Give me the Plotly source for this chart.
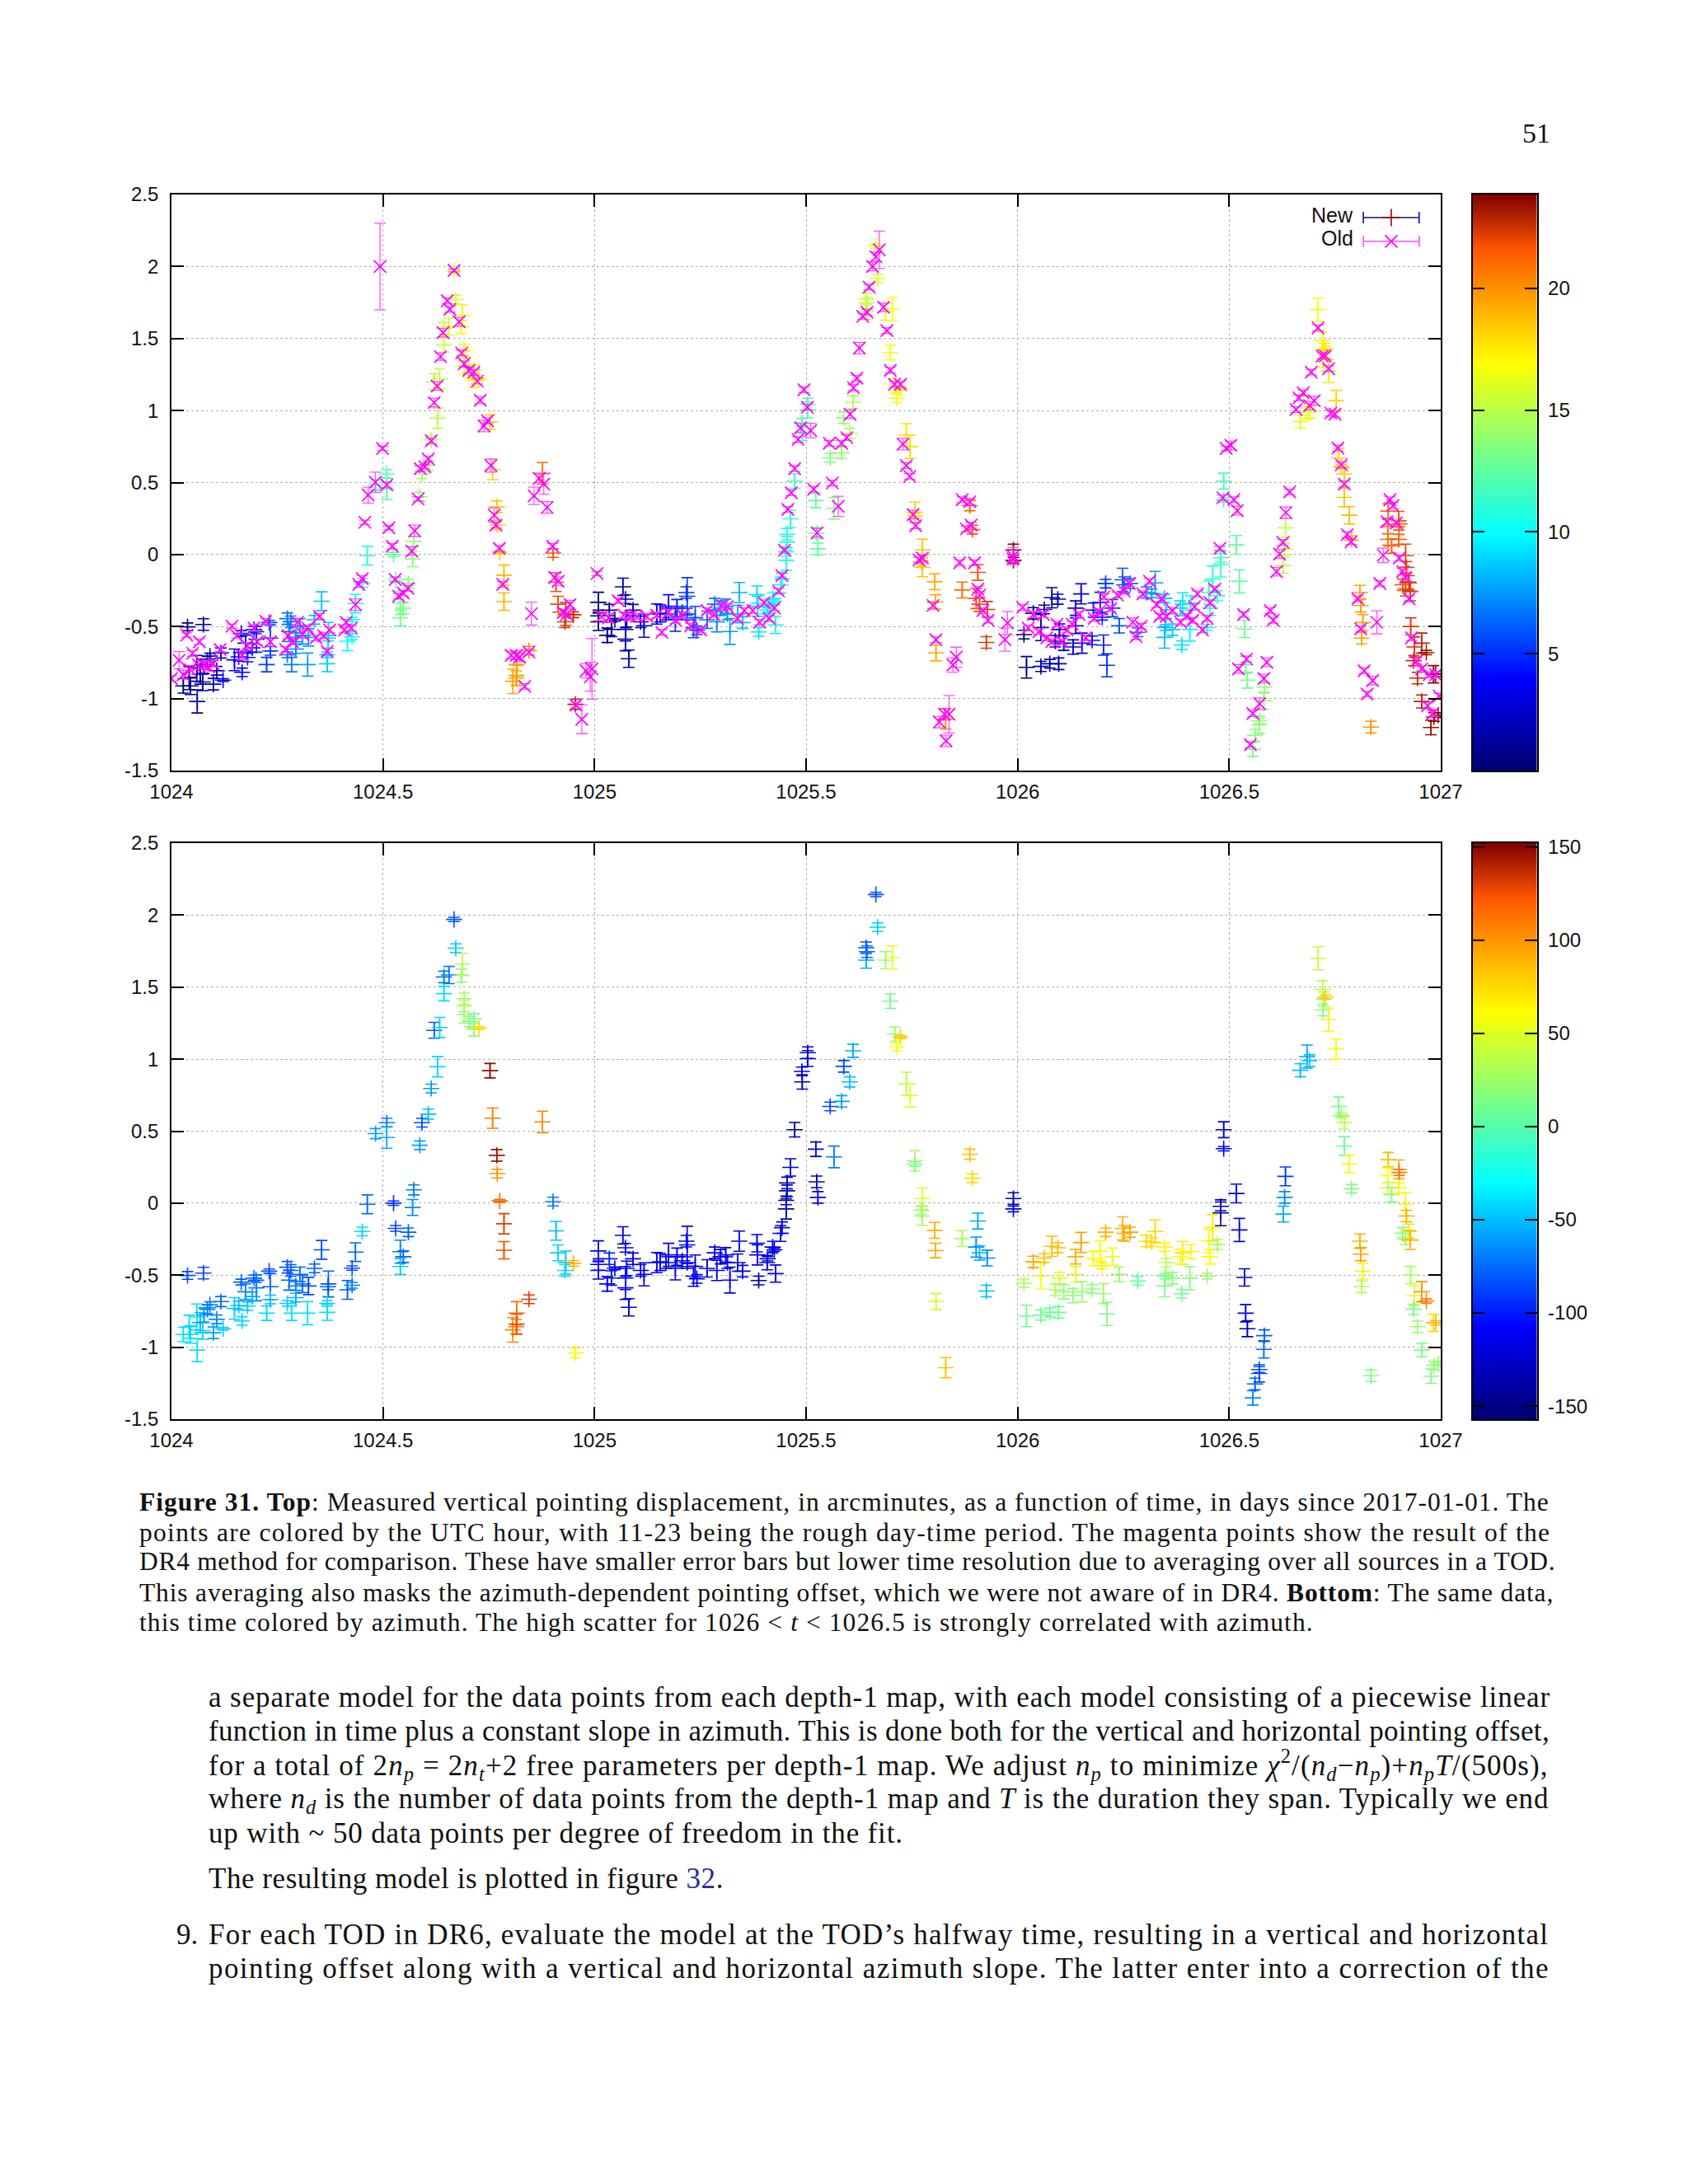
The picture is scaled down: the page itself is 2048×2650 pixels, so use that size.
import plotly.graph_objects as go
from plotly.colors import sample_colorscale

# ---------- data: new measurements ----------
new_time = [
 1024.038,1024.0755,1024.028,1024.042,1024.045,1024.06,1024.061,1024.068,1024.074,1024.077,
 1024.085,1024.091,1024.099,1024.107,1024.117,1024.122,1024.149,1024.165,1024.167,1024.159,
 1024.175,1024.18,1024.195,1024.2,1024.201,1024.191,1024.225,1024.231,1024.234,1024.234,
 1024.274,1024.278,1024.274,1024.284,1024.282,1024.294,1024.294,1024.304,1024.31,1024.322,
 1024.324,1024.338,1024.355,1024.371,1024.37,1024.368,1024.368,1024.416,1024.427,1024.427,
 1024.435,1024.451,1024.463,1024.4825,1024.509,1024.509,1024.525,1024.53,1024.541,1024.548,
 1024.541,1024.56,1024.573,1024.57,1024.587,1024.592,1024.607,1024.614,1024.621,1024.629,
 1024.634,1024.644,1024.644,1024.656,1024.668,1024.672,1024.686,1024.688,1024.692,1024.692,
 1024.692,1024.704,1024.715,1024.715,1024.727,1024.753,1024.759,1024.769,1024.77,1024.776,
 1024.786,1024.786,1024.807,1024.815,1024.816,1024.816,1024.845,1024.877,1024.902,1024.909,
 1024.914,1024.932,1024.93,1024.95,1024.955,
 1025.009,1025.009,1025.009,1025.03,1025.035,1025.048,1025.04,1025.067,1025.073,1025.076,
 1025.073,1025.073,1025.081,1025.091,1025.109,1025.117,1025.147,1025.155,1025.175,1025.169,
 1025.191,1025.195,1025.207,1025.217,1025.219,1025.219,1025.234,1025.238,1025.242,1025.266,
 1025.284,1025.289,1025.298,1025.31,1025.314,1025.32,1025.342,1025.338,1025.35,1025.384,
 1025.385,1025.388,1025.409,1025.408,1025.425,1025.428,1025.421,1025.44,1025.443,1025.455,
 1025.455,1025.453,1025.453,1025.463,1025.473,1025.491,1025.49,1025.504,1025.504,1025.523,
 1025.525,1025.528,1025.557,1025.566,1025.584,1025.589,1025.603,1025.611,1025.642,1025.642,
 1025.644,1025.665,1025.669,1025.688,1025.704,1025.699,1025.71,1025.723,1025.715,1025.737,
 1025.746,1025.757,1025.757,1025.775,1025.772,1025.775,1025.804,1025.806,1025.807,1025.83,
 1025.869,1025.887,1025.893,1025.906,1025.902,1025.91,1025.928,1025.926,1025.99,1025.99,
 1026.015,1026.021,1026.037,1026.055,1026.055,1026.063,1026.076,1026.081,1026.095,1026.097,
 1026.099,1026.089,1026.109,1026.131,1026.137,1026.137,1026.15,1026.152,1026.176,1026.179,
 1026.195,1026.2,1026.203,1026.208,1026.211,1026.224,1026.24,1026.248,1026.252,1026.266,
 1026.284,1026.304,1026.317,1026.325,1026.347,1026.349,1026.347,1026.366,1026.351,1026.388,
 1026.39,1026.384,1026.407,1026.409,1026.448,1026.452,1026.455,1026.461,1026.472,1026.48,
 1026.48,1026.487,1026.487,1026.517,1026.524,1026.536,1026.539,1026.543,1026.556,1026.561,
 1026.571,1026.571,1026.582,1026.583,1026.628,1026.631,1026.633,1026.668,1026.684,1026.69,
 1026.71,1026.721,1026.724,1026.728,1026.721,1026.735,1026.753,1026.759,1026.765,1026.772,
 1026.772,1026.784,1026.789,1026.809,1026.811,1026.816,1026.813,1026.835,1026.876,1026.875,
 1026.875,1026.884,1026.901,1026.902,1026.901,1026.917,1026.919,1026.91,1026.917,1026.925,
 1026.928,1026.929,1026.938,1026.936,1026.945,1026.955,1026.966,1026.955,1026.983,1026.988,
 1026.977,1026.984,1026.994]
new_value = [
 -.502,-.486,-.912,-.858,-.912,-.79,-1.02,-.83,-.885,-.777,
 -.737,-.705,-.9,-.807,-.683,-.872,-.731,-.548,-.818,-.71,
 -.615,-.715,-.52,-.535,-.588,-.648,-.764,-.472,-.58,-.669,
 -.445,-.534,-.696,-.764,-.467,-.575,-.656,-.494,-.561,-.764,
 -.575,-.453,-.324,-.561,-.58,-.696,-.758,-.602,-.57,-.451,
 -.34,-.197,-.008,.483,.559,.456,0,-.175,-.337,-.372,
 -.44,-.202,.092,-.03,.402,.559,.618,.796,1.2,.947,
 1.22,1.455,1.571,1.584,1.97,1.77,1.58,1.66,1.42,1.37,
 1.31,1.26,1.28,1.21,1.217,.92,.59,.332,.205,.016,
 -.143,-.327,-.88,-.858,-.764,-.84,-.667,.564,.011,-.192,
 -.345,-.413,-.467,-.418,-1.04,
 -.332,-.426,-.467,-.561,-.386,-.453,-.52,-.224,-.31,-.453,
 -.52,-.588,-.723,-.386,-.467,-.494,-.413,-.408,-.359,-.413,
 -.453,-.372,-.4,-.264,-.29,-.413,-.507,-.44,-.526,-.453,
 -.345,-.467,-.372,-.359,-.413,-.534,-.264,-.413,-.472,-.278,
 -.359,-.537,-.386,-.413,-.324,-.489,-.305,-.21,-.17,.14,
 .086,.019,-.04,.248,.51,.842,.915,1.004,1.045,.375,
 .148,.04,.672,.321,.707,.95,.842,1.058,1.773,1.687,
 1.746,2.143,1.916,1.687,1.706,1.403,1.174,1.153,1.085,.829,
 .748,.294,.27,.032,-.049,-.089,-.189,-.329,-.683,-1.142,
 -.246,.34,.173,-.124,-.305,-.345,-.381,-.61,.032,-.04,
 -.556,-.783,-.408,-.777,-.507,-.381,-.758,-.3,-.31,-.758,
 -.521,-.602,-.615,-.642,-.372,-.494,-.273,-.615,-.596,-.386,
 -.332,-.435,-.629,-.202,-.769,-.372,-.494,-.175,-.21,-.202,
 -.54,-.264,-.27,-.197,-.305,-.507,-.575,-.521,-.413,-.629,
 -.345,-.372,-.521,-.337,-.507,-.264,-.372,-.17,-.286,-.067,
 -.022,.51,.378,.067,-.186,-.516,-.764,-.872,-1.352,-1.255,
 -1.182,-1.155,-1.015,-.92,-.076,.04,.186,.923,1.018,.99,
 1.7,1.485,1.417,1.43,1.341,1.274,1.07,.672,.61,.559,
 .397,.273,.1,-.264,-.354,-.472,-.58,-1.198,.302,.194,
 .105,.059,.235,.213,.105,-.008,-.089,-.21,-.238,-.197,
 -.256,-.499,-.642,-.737,-.858,-.615,-.68,-1.02,-.831,-.831,
 -1.201,-1.128,-1.115]
new_error = [
 .027,.04,.05,.08,.06,.09,.08,.07,.06,.05,
 .03,.02,.04,.03,.035,.01,.075,.02,.03,.03,
 .055,.03,.02,.015,.09,.03,.05,.015,.09,.03,
 .04,.07,.02,.05,.04,.03,.03,.05,.06,.08,
 .06,.03,.065,.09,.02,.02,.055,.065,.02,.015,
 .065,.03,.065,.035,.03,.075,.015,.02,.08,.04,
 .055,.03,.035,.055,.03,.03,.035,.03,.055,.07,
 .07,.05,.04,.06,.015,.03,.045,.075,.04,.04,
 .06,.035,.035,.05,.01,.05,.07,.04,.03,.01,
 .07,.06,.085,.05,.08,.07,.03,.075,.03,.065,
 .055,.08,.04,.02,.035,
 .07,.04,.06,.05,.04,.01,.05,.06,.03,.05,
 .08,.08,.06,.04,.04,.08,.07,.06,.08,.04,
 .08,.06,.04,.04,.13,.04,.07,.08,.03,.06,
 .04,.07,.05,.05,.04,.09,.07,.06,.04,.06,
 .07,.03,.015,.05,.01,.06,.04,.055,.04,.04,
 .04,.03,.07,.06,.05,.05,.03,.055,.04,.05,
 .04,.04,.03,.075,.04,.04,.035,.045,.04,.055,
 .04,.015,.03,.06,.08,.05,.05,.01,.03,.08,
 .08,.07,.015,.075,.03,.065,.055,.05,.055,.07,
 .055,.035,.03,.055,.07,.05,.055,.04,.04,.02,
 .03,.075,.04,.035,.09,.03,.03,.07,.035,.04,
 .04,.04,.05,.05,.05,.055,.07,.07,.03,.05,
 .07,.02,.07,.03,.08,.06,.05,.08,.055,.035,
 .03,.04,.03,.08,.03,.02,.075,.04,.03,.03,
 .08,.05,.08,.05,.02,.08,.05,.09,.035,.09,
 .03,.055,.015,.065,.08,.06,.06,.055,.05,.04,
 .06,.02,.06,.04,.055,.04,.065,.045,.08,.04,
 .08,.06,.05,.015,.04,.08,.07,.065,.015,.045,
 .065,.06,.03,.05,.045,.055,.04,.04,.05,.05,
 .04,.05,.065,.02,.035,.08,.04,.04,.05,.05,
 .065,.06,.07,.035,.04,.07,.015,.045,.06,.015,
 .05,.03,.015]
new_utc_hour = [
 .9,1.8,.7,1.0,1.1,1.4,1.5,1.6,1.8,1.8,
 2.0,2.2,2.4,2.6,2.8,2.9,3.6,4.0,4.0,3.8,
 4.2,4.3,4.7,4.8,4.8,4.6,5.4,5.5,5.6,5.6,
 6.6,6.7,6.6,6.8,6.8,7.1,7.1,7.3,7.4,7.7,
 7.8,8.1,8.5,8.9,8.9,8.8,8.8,10.0,10.2,10.2,
 10.4,10.8,11.1,11.6,12.2,12.2,12.6,12.7,13.0,13.2,
 13.0,13.4,13.8,13.7,14.1,14.2,14.6,14.7,14.9,15.1,
 15.2,15.5,15.5,15.7,16.0,16.1,16.5,16.5,16.6,16.6,
 16.6,16.9,17.2,17.2,17.4,18.1,18.2,18.5,18.5,18.6,
 18.9,18.9,19.4,19.6,19.6,19.6,20.3,21.0,21.6,21.8,
 21.9,22.4,22.3,22.8,22.9,
 .2,.2,.2,.7,.8,1.2,1.0,1.6,1.8,1.8,
 1.8,1.8,1.9,2.2,2.6,2.8,3.5,3.7,4.2,4.1,
 4.6,4.7,5.0,5.2,5.3,5.3,5.6,5.7,5.8,6.4,
 6.8,6.9,7.2,7.4,7.5,7.7,8.2,8.1,8.4,9.2,
 9.2,9.3,9.8,9.8,10.2,10.3,10.1,10.6,10.6,10.9,
 10.9,10.9,10.9,11.1,11.4,11.8,11.8,12.1,12.1,12.6,
 12.6,12.7,13.4,13.6,14.0,14.1,14.5,14.7,15.4,15.4,
 15.5,16.0,16.1,16.5,16.9,16.8,17.0,17.4,17.2,17.7,
 17.9,18.2,18.2,18.6,18.5,18.6,19.3,19.3,19.4,19.9,
 20.9,21.3,21.4,21.7,21.6,21.8,22.3,22.2,23.8,23.8,
 .4,.5,.9,1.3,1.3,1.5,1.8,1.9,2.3,2.3,
 2.4,2.1,2.6,3.1,3.3,3.3,3.6,3.6,4.2,4.3,
 4.7,4.8,4.9,5.0,5.1,5.4,5.8,6.0,6.0,6.4,
 6.8,7.3,7.6,7.8,8.3,8.4,8.3,8.8,8.4,9.3,
 9.4,9.2,9.8,9.8,10.8,10.8,10.9,11.1,11.3,11.5,
 11.5,11.7,11.7,12.4,12.6,12.9,12.9,13.0,13.3,13.5,
 13.7,13.7,14.0,14.0,15.1,15.1,15.2,16.0,16.4,16.6,
 17.0,17.3,17.4,17.5,17.3,17.6,18.1,18.2,18.4,18.5,
 18.5,18.8,18.9,19.4,19.5,19.6,19.5,20.0,21.0,21.0,
 21.0,21.2,21.6,21.6,21.6,22.0,22.1,21.8,22.0,22.2,
 22.3,22.3,22.5,22.5,22.7,22.9,23.2,22.9,23.6,23.7,
 23.4,23.6,23.9]
new_azimuth = [
 -85,-85,-38,-42,-42,-40,-38,-50,-42,-60,
 -70,-70,-60,-65,-75,-45,-45,-80,-42,-50,
 -70,-48,-78,-82,-70,-55,-42,-85,-78,-50,
 -82,-80,-45,-40,-80,-70,-55,-75,-75,-40,
 -85,-80,-85,-78,-82,-42,-40,-80,-70,-85,
 -75,-40,-75,-60,-70,-55,-95,-85,-70,-78,
 -45,-78,-70,-65,-60,-85,-50,-60,-80,-42,
 -42,-40,-70,-70,-82,-45,20,35,30,28,
 25,15,10,15,75,148,110,145,100,115,
 130,125,105,110,115,125,130,105,-70,-50,
 -45,-50,-40,90,65,
 -115,-115,-112,-108,-98,-115,-102,-112,-115,-112,
 -108,-108,-128,-115,-115,-115,-115,-115,-115,-112,
 -115,-112,-115,-115,-112,-112,-115,-112,-112,-115,
 -115,-112,-115,-115,-112,-112,-115,-115,-115,-115,
 -115,-140,-128,-115,-115,-115,-115,-115,-112,-128,
 -128,-140,-135,-122,-140,-128,-115,-115,-122,-115,
 -128,-112,-85,-70,-60,-85,-50,-55,-85,-55,
 -75,-85,-45,25,50,10,25,80,60,35,
 50,30,15,50,20,30,90,90,45,85,
 30,85,75,-55,-65,-50,-65,-50,-135,-122,
 30,10,95,8,60,85,8,85,85,8,
 50,30,20,20,90,50,95,25,20,60,
 60,65,25,90,15,55,25,90,90,95,
 5,75,75,75,65,10,15,20,35,10,
 70,60,20,65,25,60,60,70,30,-140,
 -135,-122,-115,-112,-115,-122,-115,-128,-65,-80,
 -85,-85,-75,-80,-55,-65,-90,-50,-60,-45,
 40,35,30,80,15,65,60,10,25,35,
 5,55,15,90,95,65,35,15,85,60,
 45,15,90,110,65,65,90,15,25,70,
 90,30,50,10,25,100,110,15,75,90,
 15,20,20]

# ---------- data: old (DR4 method) measurements ----------
old_time = [
 1024.0,1024.018,1024.036,1024.05,1024.066,1024.044,1024.028,1024.064,1024.077,1024.087,
 1024.099,1024.115,1024.143,1024.155,1024.167,1024.179,1024.195,1024.203,1024.223,1024.234,
 1024.27,1024.276,1024.298,1024.286,1024.31,1024.322,1024.342,1024.35,1024.36,1024.368,
 1024.374,1024.409,1024.413,1024.425,1024.435,1024.443,1024.451,1024.457,1024.465,1024.482,
 1024.493,1024.499,1024.509,1024.514,1024.522,1024.529,1024.537,1024.548,1024.559,1024.568,
 1024.575,1024.583,1024.588,1024.599,1024.607,1024.614,1024.621,1024.628,1024.636,1024.642,
 1024.652,1024.658,1024.668,1024.68,1024.686,1024.692,1024.703,1024.715,1024.723,1024.73,
 1024.739,1024.747,1024.755,1024.763,1024.767,1024.775,1024.783,1024.803,1024.815,1024.823,
 1024.835,1024.845,1024.857,1024.869,1024.88,1024.888,1024.901,1024.906,1024.914,1024.851,
 1024.926,1024.942,1024.934,1024.956,1024.97,1024.98,1024.994,1024.99,1025.006,
 1025.017,1025.033,1025.056,1025.069,1025.085,1025.1,1025.124,1025.159,1025.147,1025.175,
 1025.191,1025.21,1025.227,1025.251,1025.266,1025.282,1025.302,1025.314,1025.338,1025.354,
 1025.374,1025.39,1025.401,1025.413,1025.425,1025.435,1025.443,1025.449,1025.457,1025.465,
 1025.473,1025.481,1025.487,1025.495,1025.503,1025.511,1025.518,1025.526,1025.555,1025.562,
 1025.576,1025.584,1025.596,1025.604,1025.612,1025.62,1025.626,1025.634,1025.644,1025.649,
 1025.657,1025.665,1025.673,1025.683,1025.691,1025.699,1025.709,1025.723,1025.729,1025.737,
 1025.745,1025.753,1025.759,1025.767,1025.775,1025.8,1025.807,1025.847,1025.855,1025.815,
 1025.827,1025.838,1025.831,1025.869,1025.887,1025.879,1025.89,1025.863,1025.898,1025.906,
 1025.91,1025.918,1025.93,1025.976,1025.97,1025.989,1025.989,
 1026.012,1026.025,1026.037,1026.05,1026.061,1026.069,1026.081,1026.093,1026.105,1026.117,
 1026.129,1026.145,1026.161,1026.181,1026.192,1026.204,1026.22,1026.236,1026.252,1026.264,
 1026.272,1026.292,1026.28,1026.296,1026.312,1026.329,1026.34,1026.336,1026.351,1026.366,
 1026.385,1026.399,1026.418,1026.425,1026.414,1026.437,1026.448,1026.455,1026.466,1026.478,
 1026.493,1026.504,1026.485,1026.511,1026.519,1026.522,1026.534,1026.541,1026.55,1026.556,
 1026.572,1026.582,1026.589,1026.597,1026.604,1026.612,1026.619,1026.627,1026.634,1026.643,
 1026.658,1026.665,1026.675,1026.69,1026.701,1026.694,1026.71,1026.72,1026.727,1026.735,
 1026.74,1026.75,1026.757,1026.765,1026.772,1026.779,1026.788,1026.804,1026.811,1026.819,
 1026.839,1026.826,1026.849,1026.856,1026.864,1026.873,1026.88,1026.887,1026.895,1026.902,
 1026.91,1026.917,1026.925,1026.931,1026.943,1026.955,1026.973,1026.988,1026.969,1026.981,
 1026.996]
old_value = [
 -.861,-.734,-.559,-.686,-.605,-.8,-.834,-.767,-.767,-.78,
 -.758,-.659,-.497,-.564,-.699,-.632,-.51,-.605,-.464,-.605,
 -.659,-.564,-.47,-.605,-.551,-.51,-.578,-.429,-.564,-.672,
 -.524,-.524,-.47,-.51,-.348,-.208,-.167,.224,.413,.502,
 2.0,.737,.483,.186,.057,-.173,-.289,-.267,-.235,.024,
 .165,.386,.596,.61,.664,.79,1.055,1.17,1.374,1.541,
 1.763,1.703,1.973,1.617,1.4,1.325,1.279,1.266,1.204,1.072,
 .893,.928,.618,.273,.205,.043,-.208,-.699,-.699,-.713,
 -.915,-.677,.408,.529,.489,.327,.057,-.159,-.186,-.41,
 -.402,-.348,-.416,-1.044,-1.144,-.807,-.794,-.848,-.132,
 -.43,-.44,-.32,-.42,-.43,-.43,-.43,-.54,-.42,-.4,
 -.456,-.42,-.497,-.524,-.389,-.416,-.354,-.362,-.443,-.389,
 -.389,-.47,-.335,-.443,-.37,-.254,-.146,.03,.313,.429,
 .596,.799,.88,1.144,1.023,.861,.453,.151,.772,.497,
 .335,.772,.812,.974,1.158,1.225,1.433,1.654,1.682,1.857,
 2.0,2.068,2.116,1.717,1.555,1.279,1.182,1.182,.767,.618,
 .543,.278,.2,-.038,-.024,-.354,-.591,-.767,-.713,-1.163,
 -1.109,-1.109,-1.293,.381,.367,.178,.205,-.057,-.057,-.24,
 -.281,-.389,-.456,-.475,-.591,-.011,-.03,
 -.367,-.51,-.416,-.537,-.416,-.578,-.605,-.483,-.605,-.524,
 -.483,-.416,-.578,-.443,-.397,-.294,-.375,-.281,-.254,-.2,
 -.47,-.497,-.57,-.273,-.186,-.348,-.308,-.429,-.429,-.389,
 -.47,-.429,-.362,-.273,-.456,-.524,-.443,-.335,-.24,.043,
 .737,.758,.394,.381,.305,-.794,-.416,-.726,-1.32,-1.104,
 -1.036,-.861,-.748,-.389,-.456,-.119,.003,.084,.291,.435,
 1.007,1.088,1.123,1.034,1.068,1.266,1.574,1.379,1.379,1.29,
 .982,.974,.74,.623,.489,.138,.089,-.308,-.516,-.807,
 -.875,-.969,-.47,-.2,-.005,.227,.381,.34,.219,-.024,
 -.119,-.159,-.308,-.578,-.74,-.794,-.834,-.834,-1.05,-1.104,
 -.982]
old_error = [
 .02,.06,.015,.02,.02,.03,.03,.03,.03,.03,
 .02,.015,.015,.015,.03,.02,.02,.02,.02,.03,
 .02,.02,.02,.02,.03,.02,.02,.02,.02,.02,
 .02,.02,.02,.02,.04,.02,.02,.015,.055,.07,
 .3,.015,.02,.015,.02,.015,.02,.02,.02,.03,
 .04,.015,.02,.015,.02,.02,.03,.03,.025,.03,
 .02,.02,.01,.03,.02,.02,.02,.02,.02,.025,
 .04,.02,.045,.05,.02,.02,.02,.025,.03,.03,
 .02,.02,.06,.03,.07,.04,.02,.03,.03,.08,
 .02,.03,.02,.02,.1,.05,.21,.1,.015,
 .03,.03,.02,.02,.02,.02,.02,.02,.02,.02,
 .02,.02,.02,.02,.02,.02,.02,.02,.02,.02,
 .02,.02,.02,.02,.02,.02,.02,.02,.02,.02,
 .02,.02,.03,.02,.02,.05,.02,.03,.02,.02,
 .07,.02,.02,.03,.02,.02,.04,.02,.02,.02,
 .03,.03,.13,.03,.02,.02,.02,.02,.04,.02,
 .02,.03,.02,.02,.02,.02,.02,.05,.07,.04,
 .04,.13,.04,.02,.02,.02,.02,.02,.02,.02,
 .02,.02,.02,.08,.08,.06,.02,
 .02,.02,.02,.02,.02,.02,.02,.02,.02,.02,
 .02,.02,.02,.02,.02,.02,.02,.02,.02,.02,
 .03,.02,.02,.02,.02,.02,.02,.02,.02,.02,
 .02,.02,.02,.02,.02,.02,.02,.02,.02,.015,
 .015,.03,.02,.02,.03,.03,.02,.02,.02,.02,
 .04,.03,.03,.02,.02,.03,.03,.02,.04,.02,
 .02,.02,.02,.03,.03,.02,.02,.02,.02,.02,
 .02,.02,.02,.02,.02,.02,.02,.02,.02,.02,
 .03,.02,.08,.02,.05,.02,.02,.02,.02,.02,
 .02,.02,.02,.02,.02,.02,.02,.02,.02,.02,
 .02]

# ---------- tick labels ----------
time_ticks = [1024, 1024.5, 1025, 1025.5, 1026, 1026.5, 1027]
time_labels = ["1024", "1024.5", "1025", "1025.5", "1026", "1026.5", "1027"]
disp_ticks = [-1.5, -1, -.5, 0, .5, 1, 1.5, 2, 2.5]
disp_labels = ["-1.5", "-1", "-0.5", "0", "0.5", "1", "1.5", "2", "2.5"]
hour_ticks = [5, 10, 15, 20]
az_ticks = [-150, -100, -50, 0, 50, 100, 150]
az_labels = ["-150", "-100", "-50", "0", "50", "100", "150"]
hour_range = [0.2, 23.85]
az_range = [-157, 152]

palette = [[0, "#000070"], [.16, "#0000ff"], [.41, "#00ffff"], [.54, "#70ff90"],
           [.707, "#ffff00"], [.82, "#ffa000"], [.905, "#ff5500"], [1, "#800000"]]

# ---------- text (text, baseline centre in page pixels, letter spacing) ----------
caption_lines = [
 ("<b>Figure 31. Top</b>: Measured vertical pointing displacement, in arcminutes, as a function of time, in days since 2017-01-01. The", 1822, 1.03),
 ("points are colored by the UTC hour, with 11-23 being the rough day-time period. The magenta points show the result of the", 1859, 1.3),
 ("DR4 method for comparison. These have smaller error bars but lower time resolution due to averaging over all sources in a TOD.", 1895, .69),
 ("This averaging also masks the azimuth-dependent pointing offset, which we were not aware of in DR4. <b>Bottom</b>: The same data,", 1932, .84),
 ("this time colored by azimuth. The high scatter for 1026 &lt; <i>t</i> &lt; 1026.5 is strongly correlated with azimuth.", 1968, 1.08),
]
body_lines = [
 ("a separate model for the data points from each depth-1 map, with each model consisting of a piecewise linear", 2059, .92),
 ("function in time plus a constant slope in azimuth. This is done both for the vertical and horizontal pointing offset,", 2100, .35),
 ("for a total of 2<i>n<sub>p</sub></i> = 2<i>n<sub>t</sub></i>+2 free parameters per depth-1 map. We adjust <i>n<sub>p</sub></i> to minimize <i>χ</i><sup>2</sup>/(<i>n<sub>d</sub></i>−<i>n<sub>p</sub></i>)+<i>n<sub>p</sub>T</i>/(500s),", 2141, 1.12),
 ("where <i>n<sub>d</sub></i> is the number of data points from the depth-1 map and <i>T</i> is the duration they span. Typically we end", 2184, .88),
 ("up with ~ 50 data points per degree of freedom in the fit.", 2224, .85),
 ("The resulting model is plotted in figure <span style='color:#2a2a8c'>32</span>.", 2279, .55),
 ("For each TOD in DR6, evaluate the model at the TOD’s halfway time, resulting in a vertical and horizontal", 2347, 1.22),
 ("pointing offset along with a vertical and horizontal azimuth slope. The latter enter into a correction of the", 2388, 1.42),
]

W, H = 2048, 2650
PLOT_L, PLOT_R = 208, 1748
BAR_L, BAR_R = 1786.5, 1864.5
TOP_PANEL = (236, 935)
BOT_PANEL = (1023, 1722)


def xdom(a, b):
    return [a / W, b / W]


def ydom(top, bottom):
    return [1 - bottom / H, 1 - top / H]


def colour(val, rng):
    return sample_colorscale(palette, [min(1, max(0, (val - rng[0]) / (rng[1] - rng[0])))])[0]


fig = go.Figure()
tick_font = dict(family="Liberation Sans", size=24, color="#111")


def style_main(xa, ya, panel, anchor_x, anchor_y):
    common = dict(showline=True, linecolor="black", linewidth=1.6, mirror="ticks", ticks="inside",
                  ticklen=15, tickwidth=1.6, tickcolor="black", showgrid=True, gridcolor="#b0b0b0",
                  griddash="dot", gridwidth=1.2, zeroline=False, tickfont=tick_font, automargin=False)
    fig.update_layout(**{
        xa: dict(common, domain=xdom(PLOT_L, PLOT_R), range=[1024, 1027], tickvals=time_ticks,
                 ticktext=time_labels, anchor=anchor_y, ticklabelstandoff=3),
        ya: dict(common, domain=ydom(*panel), range=[-1.5, 2.5], tickvals=disp_ticks,
                 ticktext=disp_labels, anchor=anchor_x, ticklabelstandoff=9),
    })


def style_bar(xa, ya, panel, rng, tv, tt, anchor_x, anchor_y):
    fig.update_layout(**{
        xa: dict(domain=xdom(BAR_L, BAR_R), range=[0, 1], showticklabels=False, ticks="", showgrid=False,
                 zeroline=False, showline=True, linecolor="black", linewidth=1.6, mirror=True, anchor=anchor_y,
                 automargin=False),
        ya: dict(domain=ydom(*panel), range=rng, side="right", tickvals=tv, ticktext=tt, ticks="inside",
                 ticklen=15, tickwidth=1.6, tickcolor="black", mirror="ticks", showline=True, linecolor="black",
                 linewidth=1.6, showgrid=False, zeroline=False, tickfont=tick_font, anchor=anchor_x,
                 ticklabelstandoff=7, automargin=False),
    })


def add_new(xa, ya, colour_vals, rng):
    for t, v, e, c in zip(new_time, new_value, new_error, colour_vals):
        col = colour(c, rng)
        fig.add_trace(go.Scatter(
            x=[t], y=[v], xaxis=xa, yaxis=ya, mode="markers", showlegend=False, hoverinfo="skip",
            marker=dict(symbol="cross-thin", size=14, color=col, line=dict(color=col, width=1.6)),
            error_y=dict(type="data", array=[e], visible=True, color=col, thickness=1.6, width=7),
        ))


def add_colour_strip(xa, ya, rng):
    levels = [rng[0] + (rng[1] - rng[0]) * i / 255 for i in range(256)]
    fig.add_trace(go.Heatmap(x=[0, 1], y=levels, z=[[l, l] for l in levels], xaxis=xa, yaxis=ya,
                             colorscale=palette, zmin=rng[0], zmax=rng[1], showscale=False, hoverinfo="skip"))


# top panel
add_new("x", "y", new_utc_hour, hour_range)
fig.add_trace(go.Scatter(
    x=old_time, y=old_value, mode="markers", name="Old", showlegend=False, hoverinfo="skip",
    marker=dict(symbol="x-thin", size=15, color="#ff00ff", line=dict(color="#ff00ff", width=1.7)),
    error_y=dict(type="data", array=old_error, visible=True, color="#ff50ff", thickness=1.3, width=7),
))
# key
key_time = [1026.883]
key_half = [.066]
for y_key, col_err, col_mark, sym in [([2.34], "#101090", "#a01010", "cross-thin"),
                                      ([2.175], "#ff50ff", "#ff00ff", "x-thin")]:
    fig.add_trace(go.Scatter(
        x=key_time, y=y_key, mode="markers", showlegend=False, hoverinfo="skip",
        marker=dict(symbol=sym, size=15, color=col_mark, line=dict(color=col_mark, width=1.7)),
        error_x=dict(type="data", array=key_half, visible=True, color=col_err, thickness=1.6, width=7),
    ))
add_colour_strip("x2", "y2", hour_range)

# bottom panel
add_new("x3", "y3", new_azimuth, az_range)
add_colour_strip("x4", "y4", az_range)

style_main("xaxis", "yaxis", TOP_PANEL, "x", "y")
style_main("xaxis3", "yaxis3", BOT_PANEL, "x3", "y3")
style_bar("xaxis2", "yaxis2", TOP_PANEL, hour_range, hour_ticks, [str(h) for h in hour_ticks], "x2", "y2")
style_bar("xaxis4", "yaxis4", BOT_PANEL, az_range, az_ticks, az_labels, "x4", "y4")

serif = "Liberation Serif"
notes = []


def note(text, px, py, size, xanchor="left", family=serif, spacing=None):
    if spacing is not None:
        text = f"<span style='letter-spacing:{spacing}px'>{text}</span>"
    notes.append(dict(text=text, x=px / W, y=1 - py / H, xref="paper", yref="paper", showarrow=False,
                      xanchor=xanchor, yanchor="middle", align="left",
                      font=dict(family=family, size=size, color="#111")))


note("51", 1864, 162, 34, xanchor="center")
note("New", 1644, 261, 25, xanchor="right", family="Liberation Sans")
note("Old", 1644, 289, 25, xanchor="right", family="Liberation Sans")
for text, py, spacing in caption_lines:
    note(text, 167, py, 31.5, spacing=spacing)
for text, py, spacing in body_lines:
    note(text, 251, py, 35, spacing=spacing)
note("9.", 212, 2347, 35)

fig.update_layout(width=W, height=H, autosize=False, margin=dict(l=0, r=0, t=0, b=0),
                  paper_bgcolor="white", plot_bgcolor="white", annotations=notes)
fig.write_html("out.html", post_script="document.body.style.margin='0';",
               config={"displayModeBar": False})
